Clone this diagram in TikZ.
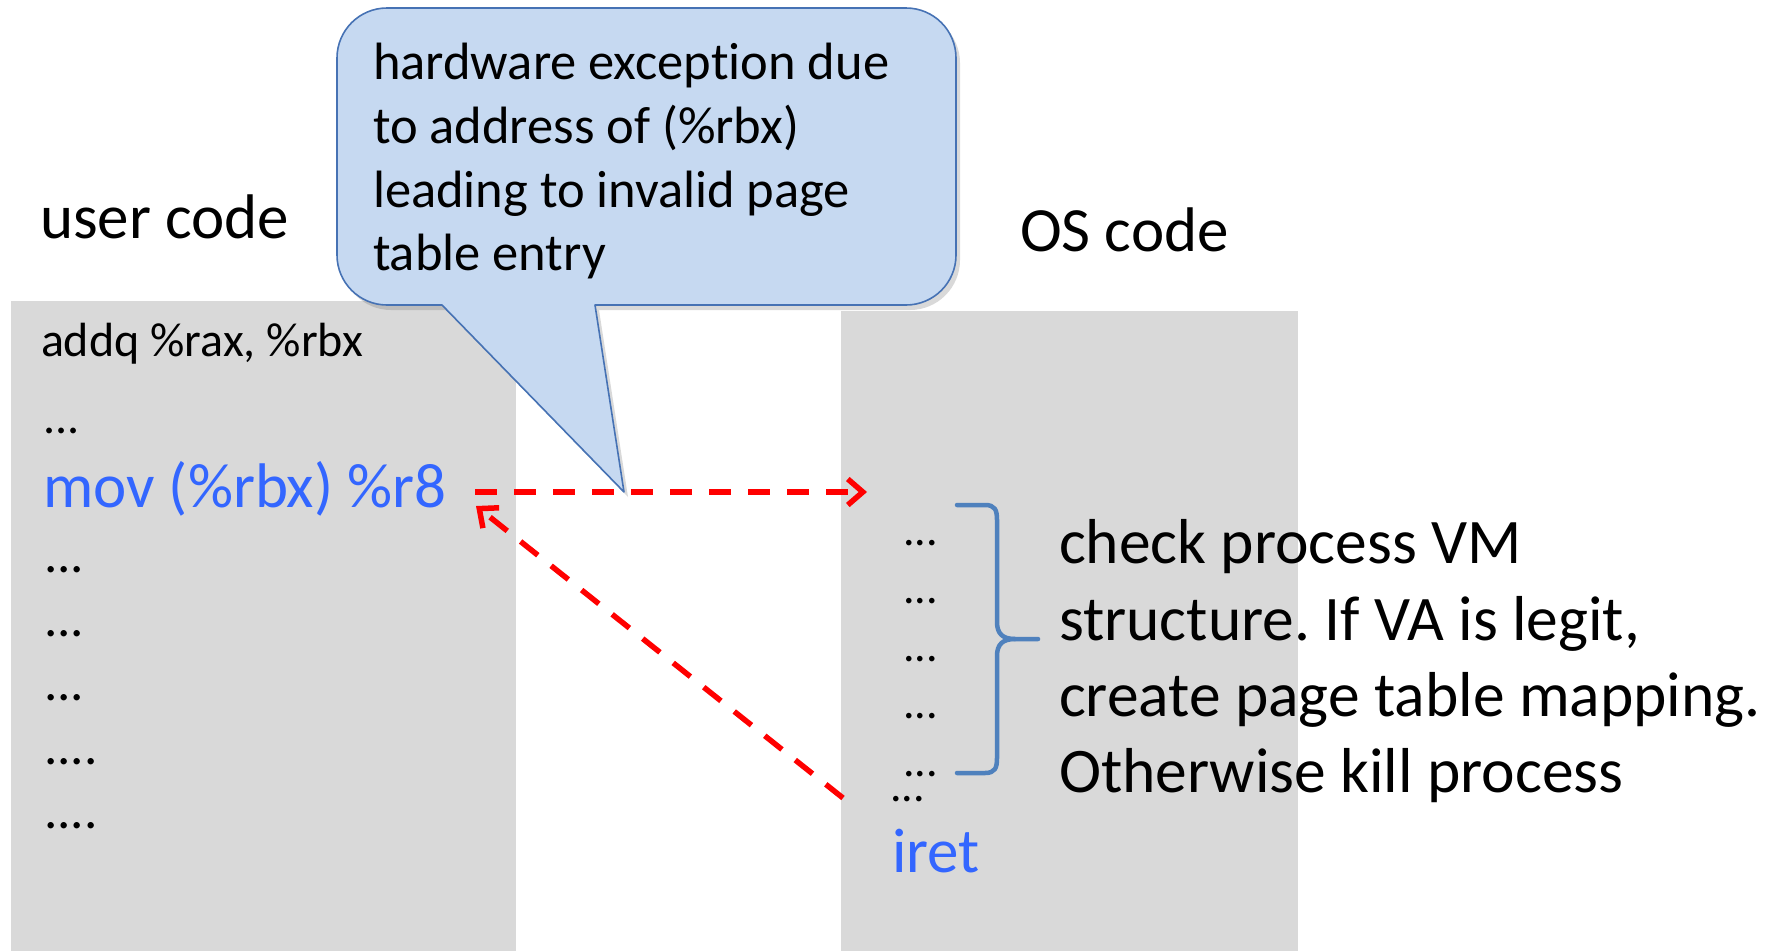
\documentclass[tikz,border=0pt]{standalone}
\usepackage{fontspec}
\setmainfont{Carlito}[Ligatures={NoCommon}]
\frenchspacing
\usetikzlibrary{arrows.meta,shadows}
\definecolor{panel}{RGB}{217,217,217}
\definecolor{codeblue}{RGB}{51,102,255}
\definecolor{bracecol}{RGB}{79,129,189}
\definecolor{bubblefill}{RGB}{198,217,241}
\definecolor{bubbleline}{RGB}{70,114,180}
\begin{document}
\begin{tikzpicture}[x=1pt,y=-1pt,
  every node/.style={inner sep=0pt,outer sep=0pt,anchor=base west},
  heading/.style={font=\fontsize{63}{75}\selectfont},
  codesmall/.style={font=\fontsize{48}{58}\selectfont},
  codedots/.style={font=\fontsize{53}{64}\selectfont},
  osdots/.style={font=\fontsize{46}{56}\selectfont},
  codebig/.style={font=\fontsize{63}{76}\selectfont,text=codeblue},
  bubbletext/.style={font=\fontsize{52.5}{64}\selectfont},
  notetext/.style={font=\fontsize{63.5}{76}\selectfont},
  panelbox/.style={fill=panel,draw=none},
  bubble/.style={fill=bubblefill,draw=bubbleline,line width=1.6pt,line join=round,
    drop shadow={shadow xshift=4pt,shadow yshift=-5pt,opacity=0.25,fill=black!60}},
  jumparrow/.style={red,line width=5.5pt,dash pattern=on 22pt off 17pt,
    -{Straight Barb[length=15pt,width=26pt,line width=5.5pt]}},
  bracket/.style={bracecol,line width=4.5pt,line cap=round,line join=round}]
\useasboundingbox (0,0) rectangle (1771,951);

% code panels
\fill[panelbox] (11,301) rectangle (516,951);
\fill[panelbox] (841,311) rectangle (1298,951);

% speech bubble with its pointer
\path[bubble] (624,492) -- (442,305) -- (430,305) [rounded corners=50pt]
  -- (337,305) -- (337,8) -- (956,8) -- (956,305) -- (700,305) [sharp corners]
  -- (595,305) -- cycle;
\node[bubbletext] (b1) at (373,79) {hardware exception due};
\node[bubbletext] (b2) at (373,143) {to address of (\%rbx)};
\node[bubbletext] (b3) at (373,207) {leading to invalid page};
\node[bubbletext] (b4) at (373,270) {table entry};

% headings
\node[heading] (user) at (40,238) {user code};
\node[heading] (os) at (1020,251) {OS code};

% user code listing
\node[codesmall] (addq) at (41,356) {addq \%rax, \%rbx};
\node[codesmall] (u1) at (43,433) {...};
\node[codebig] (mov) at (43,507) {mov (\%rbx) \%r8};
\node[codedots] (u2) at (44,572) {...};
\node[codedots] (u3) at (44,636) {...};
\node[codedots] (u4) at (44,700) {...};
\node[codedots] (u5) at (44,764) {....};
\node[codedots] (u6) at (44,828) {....};

% OS handler listing
\node[osdots] (o1) at (903,545) {...};
\node[osdots] (o2) at (903,603) {...};
\node[osdots] (o3) at (903,661) {...};
\node[osdots] (o4) at (903,718) {...};
\node[osdots] (o5) at (903,776) {...};
\node[osdots] (o6) at (890,801) {...};
\node[codebig] (iret) at (892,872) {iret};

% brace grouping the handler body
\coordinate (brTop) at (957,505);
\coordinate (brTip) at (1038,639);
\coordinate (brBot) at (957,773);
\draw[bracket] (brTop) -- (985,505) .. controls (995,505) and (997,510) .. (997,520)
  -- (997,622) .. controls (997,634) and (1003,639) .. (1015,639) -- (brTip);
\draw[bracket] (brBot) -- (985,773) .. controls (995,773) and (997,768) .. (997,758)
  -- (997,656) .. controls (997,644) and (1003,639) .. (1015,639);

\node[notetext] (n1) at (1059,563) {check process VM};
\node[notetext] (n2) at (1059,640) {structure. If VA is legit,};
\node[notetext] (n3) at (1059,716) {create page table mapping.};
\node[notetext] (n4) at (1059,792) {Otherwise kill process};

% control transfers
\coordinate (fault) at (475,492);
\coordinate (entry) at (867,492);
\coordinate (back) at (843,798);
\coordinate (resume) at (476,506);
\draw[jumparrow] (fault) -- (entry);
\draw[jumparrow] (back) -- (resume);
\end{tikzpicture}
\end{document}
